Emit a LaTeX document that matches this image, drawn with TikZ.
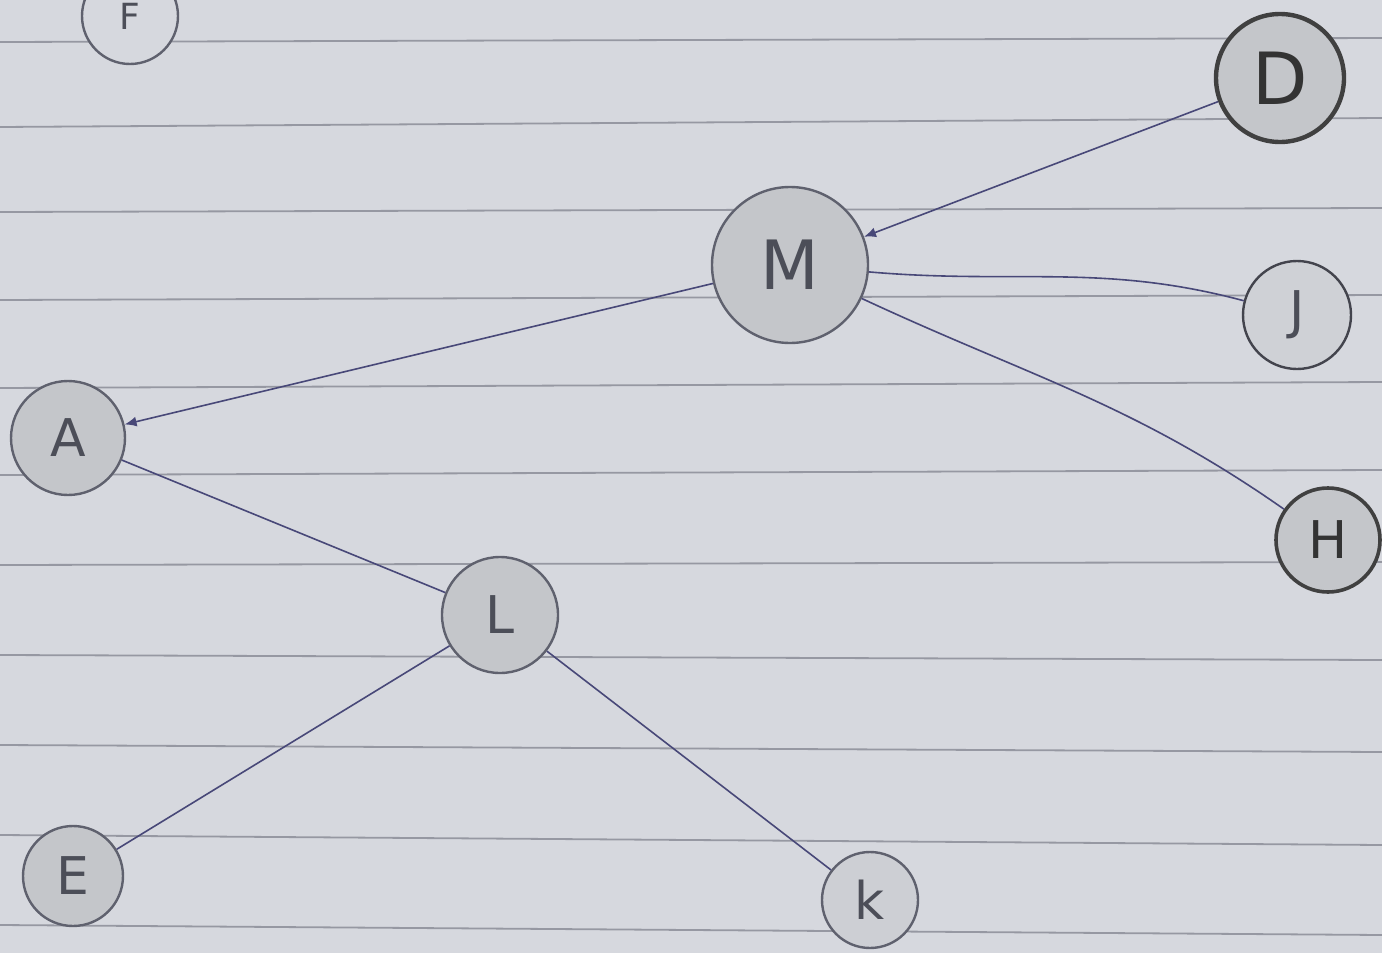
\documentclass[tikz,border=0pt]{standalone}
\usepackage{fontspec}
\setsansfont{DejaVu Sans}
\definecolor{Paper}{RGB}{214,216,222}
\definecolor{Rule}{RGB}{150,152,162}
\definecolor{Ink}{RGB}{72,72,120}
\definecolor{Pencil}{RGB}{95,97,110}
\definecolor{Shade}{RGB}{196,198,202}
\usetikzlibrary{arrows.meta,positioning}

\begin{document}
\begin{tikzpicture}[
    x=0.5pt, y=-0.5pt,
    vtx/.style={circle, draw=Pencil, line width=1.2pt, fill=Shade, inner sep=0pt,
                font=\sffamily\fontsize{26}{26}\selectfont, text=Pencil!80!black},
    dark/.style={vtx, draw=black!75, line width=2.2pt, text=black!80},
    edge/.style={Ink, line width=0.8pt},
    arr/.style={edge, -{Latex[length=6pt, width=5pt]}},
    rule/.style={Rule, line width=0.9pt}
  ]
    \useasboundingbox (0,0) rectangle (1382,953);
    \fill[Paper] (0,0) rectangle (1382,953);

    % Ruled paper
    \foreach \yl/\yr in {42/38, 127/118, 212/208, 300/295, 388/382, 475/470,
                         565/562, 655/660, 745/752, 835/845, 925/935}
      \draw[rule] (0,\yl) -- (1382,\yr);

    % Upper part
    \begin{scope}
      \clip (0,0) rectangle (1382,953);
      \node[vtx, fill=Paper, minimum size=48pt, font=\sffamily\fontsize{18}{18}\selectfont]
        (f) at (130,16) {F};
    \end{scope}
    \node[dark, minimum size=64pt, font=\sffamily\fontsize{36}{36}\selectfont] (d) at (1280,78) {D};
    \node[vtx, minimum size=78pt, font=\sffamily\fontsize{34}{34}\selectfont] (m) at (790,265) {M};
    \node[vtx, fill=Paper!60!Shade, draw=Pencil!70!black, minimum size=54pt] (j) at (1297,315) {J};
    \node[dark, minimum size=52pt, line width=1.8pt] (h) at (1328,540) {H};

    % Lower part
    \node[vtx, minimum size=57pt] (a) at (68,438) {A};
    \node[vtx, minimum size=58pt] (l) at (500,615) {L};
    \node[vtx, minimum size=50pt] (e) at (73,876) {E};
    \node[vtx, fill=Paper!50!Shade, minimum size=48pt] (k) at (870,900) {k};

    % Edges
    \draw[arr] (d) -- (m);
    \draw[arr] (m) -- (a);
    \draw[edge] (m) to[out=-5, in=165] (j);
    \draw[edge] (m) to[out=-25, in=145] (h);
    \draw[edge] (a) -- (l);
    \draw[edge] (l) -- (e);
    \draw[edge] (l) -- (k);
  \end{tikzpicture}
\end{document}
